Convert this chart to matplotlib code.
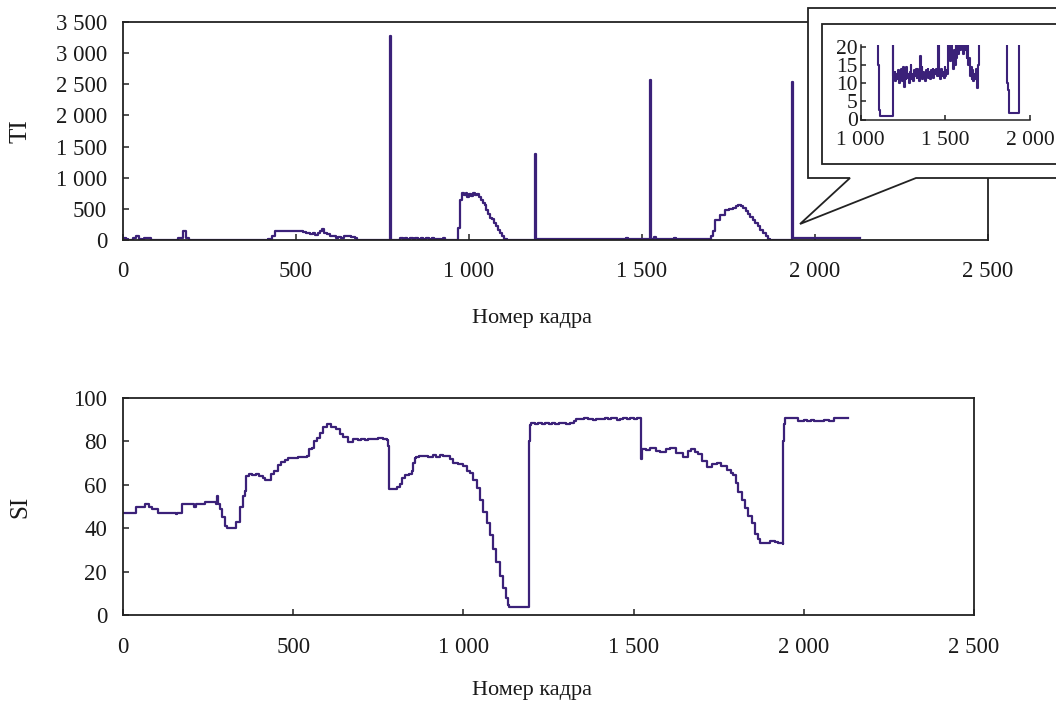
import matplotlib
matplotlib.use("Agg")
import matplotlib.pyplot as plt
from matplotlib.patches import Polygon, Rectangle

plt.rcParams['font.family'] = ['Liberation Serif', 'DejaVu Serif']

# ---------------- data ----------------
# Temporal information (TI) per frame: frame numbers and values
ti_frames = [
    0, 8, 15, 30, 38, 45, 55, 60, 75, 80, 150, 158, 168, 172, 178, 182, 190, 415,
    420, 430, 440, 445, 515, 520, 530, 540, 548, 555, 563, 570, 575, 582, 590, 598,
    606, 615, 622, 630, 640, 650, 660, 670, 676, 770,
    771, 773, 775, 790, 800, 808, 815, 822, 830, 838, 845, 852, 860, 868, 876, 884,
    892, 900, 910, 918, 925, 930, 955,
    962, 968, 974, 980, 986, 990, 995, 1000, 1006, 1012, 1018, 1024, 1030, 1036,
    1040, 1046, 1050, 1055, 1060, 1066, 1072, 1078, 1084, 1090, 1096, 1100, 1106,
    1110, 1114, 1183, 1186, 1190, 1193,
    1195, 1200, 1205, 1210, 1215, 1220, 1225, 1230, 1235, 1240, 1245, 1250, 1255,
    1260, 1265, 1270, 1275, 1280, 1285, 1290, 1295, 1300, 1305, 1310, 1315, 1320,
    1325, 1330, 1335, 1340, 1345, 1350, 1355, 1360, 1365, 1370, 1375, 1380, 1385,
    1390, 1395, 1400, 1405, 1410, 1415, 1420, 1425, 1430, 1435, 1440, 1445, 1450,
    1455, 1460, 1465, 1470, 1475, 1480, 1485, 1490, 1495, 1500, 1505, 1510, 1515,
    1518, 1521, 1523, 1526, 1530, 1533, 1536, 1540, 1545, 1550, 1555, 1560, 1565,
    1570, 1575, 1580, 1585, 1590, 1593, 1597, 1600, 1605, 1610, 1615, 1620, 1625,
    1630, 1635, 1640, 1645, 1650, 1655, 1660, 1665, 1670, 1675, 1680, 1685, 1690,
    1695, 1700, 1706, 1712, 1725, 1740, 1752, 1764, 1772, 1778, 1786, 1793, 1800,
    1806, 1812, 1820, 1827, 1834, 1841, 1850, 1858, 1865, 1868, 1871, 1875, 1878,
    1930, 1933, 1935, 1938, 1960, 1990, 2020, 2050, 2080, 2110, 2130,
]
ti_values = [
    40, 10, 0, 30, 70, 20, 0, 40, 40, 0, 0, 40, 40, 150, 150, 40, 0, 0,
    10, 60, 140, 145, 145, 130, 110, 90, 120, 80, 110, 150, 170, 120, 100, 70,
    60, 40, 50, 30, 60, 60, 50, 40, 0, 0,
    0, 3280, 0, 0, 30, 10, 40, 15, 35, 10, 40, 20, 35, 10, 30, 15,
    35, 10, 20, 0, 30, 0, 0,
    0, 200, 640, 750, 720, 760, 690, 740, 700, 760, 720, 740, 690, 640,
    590, 560, 480, 410, 350, 330, 270, 230, 160, 120, 60, 15, 14,
    2.5, 1, 1, 1, 1380, 12,
    11, 13, 10.5, 12.5, 11, 13.5, 10, 12, 11.5, 14, 10.5, 14.5, 8.8,
    13, 11, 14.5, 11.5, 12.5, 10, 13, 15, 11, 12.5, 10.5, 13.5, 12,
    14, 11.5, 14, 12, 10.5, 17.3, 12, 14.5, 11, 13, 12.5, 10.5, 13.5,
    12, 14, 11.5, 13, 11, 13.5, 12, 14, 11.5, 13.5, 12.5, 14, 12,
    40, 12, 13.5, 11, 14, 12, 13, 11.5, 14.5, 12, 13.5, 12.5, 14,
    21, 19, 2575, 21, 16, 22, 45, 18, 14, 19, 15, 22, 17,
    21, 18, 23, 19, 22, 35, 20, 24, 18, 22, 19, 23, 17,
    21, 15, 17, 12, 14.5, 11, 13.5, 10.5, 12.5, 11, 14, 8.6, 12,
    15, 60, 150, 322, 402, 483, 500, 520, 545, 565, 540, 515, 470,
    420, 376, 320, 268, 220, 161, 110, 60, 10, 9.8, 8, 2.5, 1.8,
    1.8, 2530, 35, 30, 35, 30, 35, 30, 35, 30, 35,
]

# Spatial information (SI) per frame
si_frames = [
    0, 35, 37, 60, 65, 75, 84, 86, 100, 103, 150, 155, 160, 170, 172, 205, 208,
    215, 240, 242, 265, 272, 275, 278, 285, 292, 300, 305, 330, 332, 340, 345,
    352, 358, 362, 370, 380, 390, 400, 410, 418, 430, 435, 445, 455, 465, 475,
    485, 500, 515, 530, 540, 545, 555, 562, 570, 578, 588, 598, 610, 625, 637,
    645, 662, 670, 676, 690, 700, 710, 720, 735, 750, 765, 775, 779, 781, 790,
    805, 814, 820, 828, 840, 848, 852, 858, 862, 870, 882, 895, 910, 920, 932,
    940, 955, 962, 970, 985, 1000, 1005, 1012, 1019, 1028, 1039, 1048, 1058,
    1068, 1078, 1088, 1097, 1107, 1117, 1125, 1132, 1135, 1190, 1192, 1195,
    1200, 1210, 1220, 1230, 1240, 1250, 1260, 1270, 1280, 1290, 1300, 1313,
    1325, 1330, 1345, 1355, 1365, 1380, 1390, 1400, 1415, 1425, 1435, 1450,
    1460, 1470, 1480, 1490, 1500, 1510, 1519, 1521, 1524, 1535, 1548, 1565,
    1578, 1595, 1607, 1625, 1646, 1660, 1670, 1680, 1690, 1700, 1715, 1730,
    1744, 1758, 1773, 1785, 1793, 1800, 1807, 1817, 1827, 1837, 1847, 1858,
    1866, 1871, 1885, 1900, 1915, 1925, 1938, 1940, 1942, 1946, 1979, 1982,
    2000, 2010, 2020, 2030, 2040, 2050, 2060, 2075, 2086, 2090, 2131,
]
si_values = [
    47, 47, 50, 50, 51, 50, 50, 49, 49, 47, 47, 46.5, 47, 47, 51, 51, 50,
    51, 51, 52, 52, 51, 55, 51, 49, 45, 41, 40, 40, 43, 43, 50,
    55, 57, 64, 65, 64.5, 65, 64, 63, 62, 62, 65, 66.5, 69, 70.5, 71.5,
    72.5, 72.5, 73, 73, 73.5, 76.5, 77, 80, 81.5, 84, 86.8, 87.8, 86.5, 85.5, 83.5,
    82, 79.5, 79.5, 81, 80.5, 81, 80.5, 81, 81, 81.5, 81, 80.5, 78, 58, 58,
    59, 60.5, 63, 64.5, 65, 66.5, 70, 72.5, 73, 73.5, 73.5, 72.8, 73.6, 73, 73.8,
    73.2, 73.5, 72, 70, 69.5, 68.8, 68.5, 66.5, 65.3, 62, 58.4, 53, 47.6,
    42.5, 36.9, 30.5, 24.6, 18, 12.3, 8, 4.6, 3.7, 3.7, 80, 87.5,
    88.3, 88, 88.6, 87.8, 88.4, 88.1, 88.5, 87.9, 88.3, 88.6, 88.2, 88.5,
    89.5, 90.5, 90.2, 90.8, 90.3, 89.8, 90.5, 90.1, 90.6, 90.2, 90.7, 89.9,
    90.4, 90.8, 90.3, 90.6, 90.2, 90.7, 90.8, 72, 76.5, 76.2, 76.8, 75.5,
    75, 76.5, 77.1, 74.8, 73, 75.5, 76.5, 75, 74, 71, 68.4, 69.5,
    69.9, 68.5, 66.8, 65.5, 64.5, 61, 56.8, 53, 49.2, 45.5, 42.2, 37.5,
    35, 33, 33.3, 34, 33.5, 33, 32.6, 80, 88, 90.8, 90.8, 89.6,
    90, 89.4, 89.8, 89.3, 89.6, 89.2, 89.8, 89.4, 89.6, 90.8, 90.8,
]

frame_ticks = [0, 500, 1000, 1500, 2000, 2500]
frame_tick_labels = ['0', '500', '1 000', '1 500', '2 000', '2 500']
ti_ticks = [0, 500, 1000, 1500, 2000, 2500, 3000, 3500]
ti_tick_labels = ['0', '500', '1 000', '1 500', '2 000', '2 500', '3 000', '3 500']
si_ticks = [0, 20, 40, 60, 80, 100]
si_tick_labels = ['0', '20', '40', '60', '80', '100']
zoom_x_ticks = [1000, 1500, 2000]
zoom_x_labels = ['1 000', '1 500', '2 000']
zoom_y_ticks = [0, 5, 10, 15, 20]
zoom_y_labels = ['0', '5', '10', '15', '20']

x_label = 'Номер кадра'

# ---------------- style ----------------
LINE = '#3b2179'
SPINE = '#222222'
TEXT = '#1a1a1a'
W, H = 1056, 704


def frac(l, t, r, b):
    return [l / W, 1 - b / H, (r - l) / W, (b - t) / H]


def style_axes(ax, labelsize, xpad, ypad, spine_lw=1.3):
    for s in ax.spines.values():
        s.set_color(SPINE)
        s.set_linewidth(spine_lw)
    ax.tick_params(direction='in', length=4.5, width=1.1, color=SPINE,
                   labelsize=labelsize, labelcolor=TEXT,
                   top=False, right=False)
    ax.tick_params(axis='x', pad=xpad)
    ax.tick_params(axis='y', pad=ypad)


fig = plt.figure(figsize=(10.56, 7.04), dpi=100)

# TI panel
ax1 = fig.add_axes(frac(123, 22, 988, 240))
ax1.plot(ti_frames, ti_values, color=LINE, lw=1.6, drawstyle='steps-post')
ax1.set_xlim(0, 2500)
ax1.set_ylim(0, 3500)
ax1.set_xticks(frame_ticks, frame_tick_labels)
ax1.set_yticks(ti_ticks, ti_tick_labels)
style_axes(ax1, 16.5, 15, 11.5)
ax1.set_xlabel(x_label, fontsize=16, color=TEXT)
ax1.xaxis.label.set_va('center')
ax1.xaxis.set_label_coords(0.473, -0.362)
ax1.set_ylabel('TI', fontsize=18, color=TEXT)
ax1.yaxis.label.set_va('center')
ax1.yaxis.set_label_coords(-0.119, 0.5)

# SI panel
ax2 = fig.add_axes(frac(123, 398, 974, 615))
ax2.plot(si_frames, si_values, color=LINE, lw=1.6, drawstyle='steps-post')
ax2.set_xlim(0, 2500)
ax2.set_ylim(0, 100)
ax2.set_xticks(frame_ticks, frame_tick_labels)
ax2.set_yticks(si_ticks, si_tick_labels)
style_axes(ax2, 16.5, 16, 11.5)
ax2.set_xlabel(x_label, fontsize=16, color=TEXT)
ax2.xaxis.label.set_va('center')
ax2.xaxis.set_label_coords(0.481, -0.35)
ax2.set_ylabel('SI', fontsize=18, color=TEXT)
ax2.yaxis.label.set_va('center')
ax2.yaxis.set_label_coords(-0.121, 0.5)

# Callout frame for the zoomed view (pixel coordinates of the figure)
ov = fig.add_axes([0, 0, 1, 1], zorder=5)
ov.set_xlim(0, W)
ov.set_ylim(H, 0)
ov.axis('off')
callout = Polygon([(808, 8), (1075, 8), (1075, 178), (916, 178), (800, 224),
                   (850, 178), (808, 178)], closed=True, facecolor='white',
                  edgecolor=SPINE, lw=1.3)
ov.add_patch(callout)
ov.add_patch(Rectangle((822, 24), 260, 140, facecolor='white',
                       edgecolor=SPINE, lw=1.3))

# Zoomed view of low TI values
ax3 = fig.add_axes(frac(860.7, 45.2, 1030, 119.5), zorder=6)
ax3.patch.set_alpha(0)
ax3.plot(ti_frames, ti_values, color=LINE, lw=1.5, drawstyle='steps-post')
ax3.set_xlim(1000, 2000)
ax3.set_ylim(0, 20.4)
ax3.set_xticks(zoom_x_ticks, zoom_x_labels)
ax3.set_yticks(zoom_y_ticks, zoom_y_labels)
style_axes(ax3, 15.5, 8, 2, spine_lw=1.1)
ax3.tick_params(length=3.5)
ax3.spines['top'].set_visible(False)
ax3.spines['right'].set_visible(False)

fig.savefig('out.png', dpi=100, facecolor='white')
